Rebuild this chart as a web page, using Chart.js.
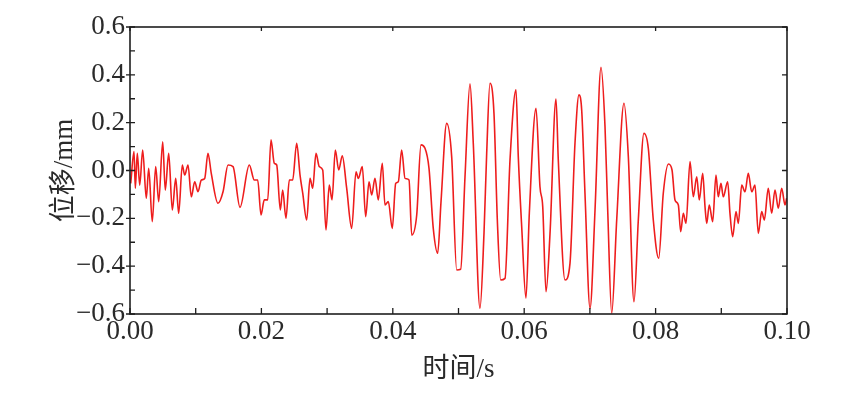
<!DOCTYPE html>
<html>
<head>
<meta charset="utf-8">
<script src="https://cdn.jsdelivr.net/npm/chart.js@4/dist/chart.umd.min.js"></script>
<style>
  html, body { margin: 0; padding: 0; background: #fff; }
  #wrap { width: 850px; height: 398px; }
</style>
</head>
<body>
<div id="wrap"><canvas id="vibChart"></canvas></div>
<script>
// 时间 (s)
const times = [
  0.00011, 0.00061, 0.00081, 0.00111, 0.00148, 0.00193, 0.00248, 0.00285, 0.00339, 0.00391,
  0.00437, 0.00498, 0.00537, 0.00589, 0.00644, 0.00696, 0.00741, 0.00796, 0.00833, 0.00883,
  0.00933, 0.00985, 0.01035, 0.01085, 0.01137, 0.01187, 0.01237, 0.01339, 0.01416, 0.01492,
  0.01568, 0.01674, 0.01816, 0.01892, 0.01944, 0.01994, 0.02044, 0.02096, 0.02146, 0.02196,
  0.02233, 0.02288, 0.02324, 0.02374, 0.02425, 0.02476, 0.02537, 0.02588, 0.02629, 0.02689,
  0.02740, 0.02781, 0.02831, 0.02881, 0.02933, 0.02983, 0.03033, 0.03075, 0.03125, 0.03177,
  0.03231, 0.03298, 0.03374, 0.03440, 0.03475, 0.03536, 0.03587, 0.03638, 0.03679, 0.03729,
  0.03779, 0.03840, 0.03881, 0.03932, 0.03992, 0.04044, 0.04084, 0.04135, 0.04186, 0.04247,
  0.04288, 0.04364, 0.04429, 0.04490, 0.04551, 0.04616, 0.04683, 0.04734, 0.04820, 0.04896,
  0.04973, 0.05033, 0.05099, 0.05175, 0.05225, 0.05327, 0.05388, 0.05429, 0.05479, 0.05540,
  0.05591, 0.05642, 0.05708, 0.05784, 0.05875, 0.05910, 0.05962, 0.06027, 0.06078, 0.06180,
  0.06240, 0.06282, 0.06332, 0.06393, 0.06484, 0.06519, 0.06621, 0.06697, 0.06773, 0.06834,
  0.06875, 0.06925, 0.07002, 0.07078, 0.07169, 0.07230, 0.07271, 0.07332, 0.07408, 0.07519,
  0.07585, 0.07671, 0.07737, 0.07823, 0.07889, 0.07965, 0.08047, 0.08117, 0.08196, 0.08250,
  0.08295, 0.08346, 0.08382, 0.08422, 0.08463, 0.08524, 0.08574, 0.08626, 0.08665, 0.08717,
  0.08752, 0.08778, 0.08817, 0.08869, 0.08919, 0.08954, 0.08995, 0.09030, 0.09097, 0.09132,
  0.09173, 0.09224, 0.09259, 0.09311, 0.09361, 0.09411, 0.09463, 0.09513, 0.09563, 0.09615,
  0.09655, 0.09715, 0.09767, 0.09817, 0.09868, 0.09919, 0.09970, 0.09995
];
// 位移 (mm)
const displacement = [
  -0.054, 0.079, -0.074, 0.072, -0.061, 0.086, -0.116, 0.009, -0.214, 0.016,
  -0.130, 0.120, -0.082, 0.072, -0.165, -0.033, -0.179, 0.023, -0.019, 0.023,
  -0.110, -0.047, -0.089, -0.040, -0.033, 0.072, -0.012, -0.137, -0.089, 0.023,
  0.016, -0.154, 0.023, -0.040, -0.040, -0.186, -0.123, -0.123, 0.128, 0.030,
  0.023, -0.165, -0.082, -0.200, -0.040, -0.040, 0.114, -0.019, -0.095, -0.207,
  -0.033, -0.074, 0.072, 0.016, 0.002, -0.249, -0.061, -0.123, 0.086, 0.002,
  0.061, -0.074, -0.242, -0.005, -0.033, 0.016, -0.193, -0.047, -0.102, -0.033,
  -0.123, 0.030, -0.144, -0.130, -0.242, -0.054, -0.047, 0.086, -0.033, -0.040,
  -0.270, -0.186, 0.107, 0.093, 0.009, -0.242, -0.346, -0.130, 0.197, 0.058,
  -0.416, -0.413, -0.026, 0.362, 0.114, -0.576, -0.263, 0.072, 0.365, 0.239,
  -0.207, -0.458, -0.451, 0.044, 0.337, 0.058, -0.235, -0.534, -0.179, 0.260,
  -0.068, -0.151, -0.507, -0.263, 0.299, 0.044, -0.458, -0.388, 0.114, 0.316,
  0.253, -0.095, -0.576, -0.165, 0.431, 0.183, -0.165, -0.597, -0.207, 0.281,
  0.058, -0.549, -0.207, 0.156, 0.093, -0.207, -0.367, -0.095, 0.027, 0.002,
  -0.123, -0.144, -0.256, -0.179, -0.221, 0.037, -0.110, -0.026, -0.123, -0.012,
  -0.151, -0.221, -0.144, -0.214, -0.019, -0.110, -0.054, -0.110, -0.047, -0.179,
  -0.277, -0.172, -0.221, -0.061, -0.089, -0.012, -0.089, -0.061, -0.263, -0.172,
  -0.207, -0.074, -0.179, -0.082, -0.158, -0.074, -0.144, -0.116
];
const xRange = [0, 0.1];
const yRange = [-0.6, 0.6];
const xLabel = '时间/s';
const yLabel = '位移/mm';

const fontFam = '"Liberation Serif", "Times New Roman", "Noto Sans CJK SC", serif';
const txtColor = '#2a2a2a';

function fmt(v, d) {
  const s = Math.abs(v).toFixed(d);
  return (v < -1e-9 ? '\u2212' : '') + s;
}

// 画边框和朝内的刻度
const frameTicks = {
  id: 'frameTicks',
  afterDatasetsDraw(chart) {
    const { ctx, chartArea: a, scales } = chart;
    const x = scales.x, y = scales.y;
    const xt = x.ticks.map(t => t.value), yt = y.ticks.map(t => t.value);
    const mid = arr => arr.slice(1).map((v, i) => (v + arr[i]) / 2);
    ctx.save();
    ctx.strokeStyle = '#1e1e1e';
    ctx.lineWidth = 1.6;
    ctx.strokeRect(a.left, a.top, a.right - a.left, a.bottom - a.top);
    ctx.lineWidth = 1.3;
    ctx.beginPath();
    // 底部：主刻度 + 次刻度
    xt.concat(mid(xt)).forEach(v => {
      const px = x.getPixelForValue(v);
      ctx.moveTo(px, a.bottom); ctx.lineTo(px, a.bottom - 6);
    });
    // 顶部：只有主刻度
    xt.forEach(v => {
      const px = x.getPixelForValue(v);
      ctx.moveTo(px, a.top); ctx.lineTo(px, a.top + 4);
    });
    // 左边：主刻度 + 次刻度
    yt.forEach(v => {
      const py = y.getPixelForValue(v);
      ctx.moveTo(a.left - 4, py); ctx.lineTo(a.left + 5, py);
    });
    mid(yt).forEach(v => {
      const py = y.getPixelForValue(v);
      ctx.moveTo(a.left, py); ctx.lineTo(a.left + 5, py);
    });
    // 右边：只有主刻度
    yt.forEach(v => {
      const py = y.getPixelForValue(v);
      ctx.moveTo(a.right, py); ctx.lineTo(a.right - 5, py);
    });
    ctx.stroke();
    ctx.restore();
  }
};

const points = times.map((t, i) => ({ x: t, y: displacement[i] }));

new Chart(document.getElementById('vibChart'), {
  type: 'line',
  data: {
    datasets: [{
      data: points,
      borderColor: '#ee1d1d',
      borderWidth: 1.6,
      pointRadius: 0,
      cubicInterpolationMode: 'monotone',
      fill: false
    }]
  },
  options: {
    responsive: true,
    maintainAspectRatio: false,
    animation: false,
    layout: { padding: { left: 0, right: 63, top: 27, bottom: 0 } },
    plugins: { legend: { display: false }, tooltip: { enabled: false } },
    scales: {
      x: {
        type: 'linear',
        min: xRange[0], max: xRange[1],
        grid: { display: false, drawTicks: false },
        border: { display: false },
        ticks: {
          stepSize: 0.02, padding: 2, maxRotation: 0,
          color: txtColor, font: { family: fontFam, size: 27 },
          callback: v => fmt(v, 2)
        },
        title: {
          display: true, text: xLabel, color: txtColor,
          font: { family: fontFam, size: 27, lineHeight: 1.2 },
          padding: { top: 0, bottom: 12 }
        },
        afterFit: s => { s.height = 84; }
      },
      y: {
        min: yRange[0], max: yRange[1],
        grid: { display: false, drawTicks: false },
        border: { display: false },
        ticks: {
          stepSize: 0.2, padding: 5,
          color: txtColor, font: { family: fontFam, size: 27 },
          callback: v => fmt(v, 1)
        },
        title: {
          display: true, text: yLabel, color: txtColor,
          font: { family: fontFam, size: 27, lineHeight: 1.2 },
          padding: { top: 49, bottom: 0 }
        },
        afterFit: s => { s.width = 130; }
      }
    }
  },
  plugins: [frameTicks]
});
</script>
</body>
</html>
